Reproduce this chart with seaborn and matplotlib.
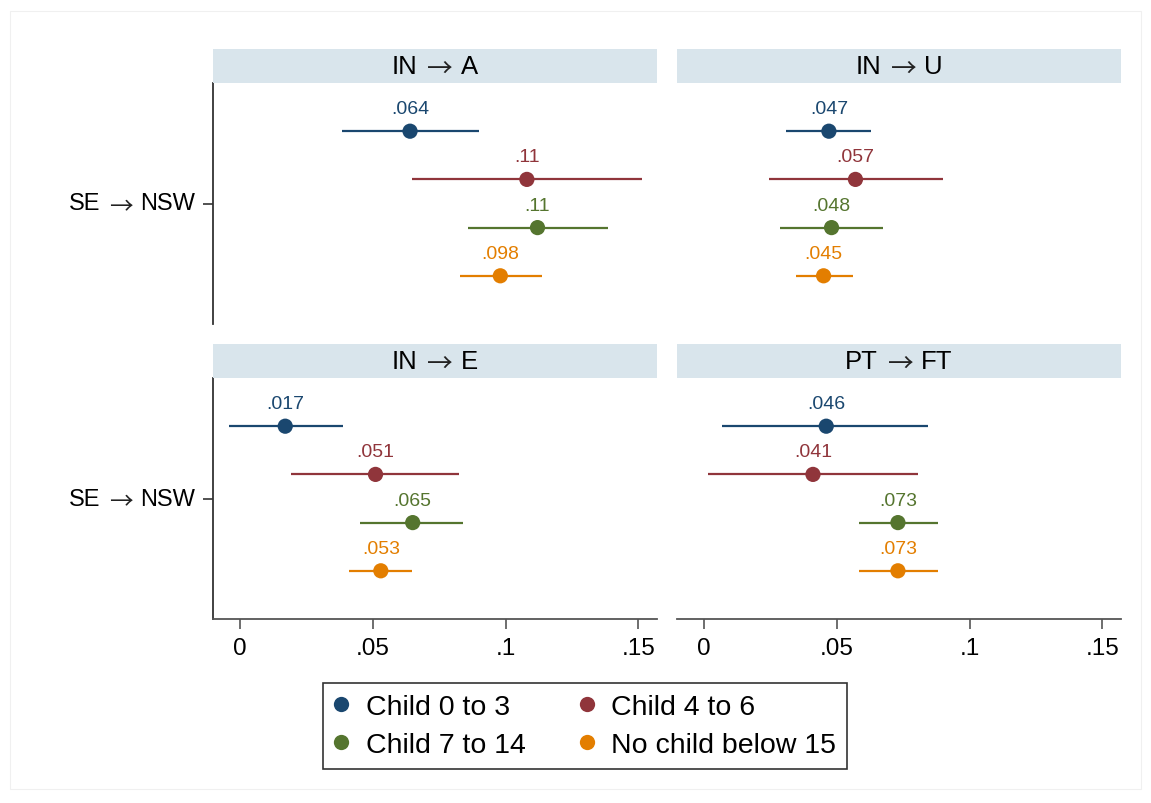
import matplotlib
matplotlib.use("Agg")
import matplotlib.pyplot as plt
import seaborn as sns
import pandas as pd
from matplotlib.lines import Line2D
from matplotlib.patches import Rectangle
from matplotlib.text import Text
from matplotlib.offsetbox import TextArea, HPacker, DrawingArea, AnnotationBbox

# panel titles, row label and groups
panels = ["IN → A", "IN → U", "IN → E", "PT → FT"]
row_label = "SE → NSW"
groups = ["Child 0 to 3", "Child 4 to 6", "Child 7 to 14", "No child below 15"]
colors = ["#1a476f", "#90353b", "#55752f", "#e37e00"]

# point estimates and 95% CIs
coef_a = [0.064, 0.108, 0.112, 0.098]
lo_a = [0.0385, 0.0648, 0.086, 0.0829]
hi_a = [0.0898, 0.1513, 0.1385, 0.1137]

coef_u = [0.047, 0.057, 0.048, 0.045]
lo_u = [0.0308, 0.0246, 0.0284, 0.0345]
hi_u = [0.0629, 0.0899, 0.0672, 0.0559]

coef_e = [0.017, 0.051, 0.065, 0.053]
lo_e = [-0.0040, 0.0191, 0.0452, 0.0412]
hi_e = [0.0387, 0.0826, 0.0841, 0.0648]

coef_ft = [0.046, 0.041, 0.073, 0.073]
lo_ft = [0.0069, 0.0016, 0.0584, 0.0584]
hi_ft = [0.0843, 0.0805, 0.0880, 0.0880]

xticks = [0, 0.05, 0.1, 0.15]
xtick_labels = ["0", ".05", ".1", ".15"]

panel_data = [(coef_a, lo_a, hi_a), (coef_u, lo_u, hi_u),
              (coef_e, lo_e, hi_e), (coef_ft, lo_ft, hi_ft)]


def stata_fmt(v):
    s = f"{v:.2g}"
    return s.replace("0.", ".", 1) if s.startswith("0.") else s


def arrow_text(label, size):
    # letters in Liberation Sans, the long thin arrow from the CJK font,
    # dropped a little so it sits near mid x-height like the original
    left, right = [p.strip() for p in label.split("→")]
    base = dict(fontsize=size, color="black", family="Liberation Sans")
    aw = size * 1.0
    arrow = DrawingArea(aw, size * 0.7, 0, 0, clip=False)
    arrow.add_artist(Text(aw / 2, -size * 0.16, "→", fontsize=size,
                          color="#222222", family="Noto Sans CJK SC",
                          ha="center", va="baseline"))
    return HPacker(children=[TextArea(left, textprops=base),
                             DrawingArea(size * 0.38, 1, 0, 0),
                             arrow,
                             DrawingArea(size * 0.30, 1, 0, 0),
                             TextArea(right, textprops=base)],
                   align="baseline", pad=0, sep=0)


sns.set_theme(style="white")
plt.rcParams['font.family'] = ['Liberation Sans', 'Noto Sans CJK SC', 'DejaVu Sans']
plt.rcParams['text.color'] = 'black'
plt.rcParams['xtick.color'] = 'black'
plt.rcParams['ytick.color'] = 'black'

W, H = 1151, 804
fig = plt.figure(figsize=(W / 100, H / 100), dpi=100)
fig.patches.append(Rectangle((10 / W, 1 - 790 / H), 1131 / W, 778 / H,
                             transform=fig.transFigure, fill=False,
                             edgecolor="#f0f0f0", lw=0.8))

pw, ph = 444, 241
boxes = [(213, 84), (677, 84), (213, 379), (677, 379)]
palette = dict(zip(groups, colors))

for k, (px, py) in enumerate(boxes):
    coef, lo, hi = panel_data[k]
    df = pd.DataFrame({"group": groups, "coef": coef, "lo": lo, "hi": hi})
    df["y"] = [(i - 1.5) * 0.2 for i in range(len(groups))]

    ax = fig.add_axes([px / W, 1 - (py + ph) / H, pw / W, ph / H])
    ax.hlines(df["y"], df["lo"], df["hi"], colors=colors, lw=1.6, zorder=2)
    sns.scatterplot(data=df, x="coef", y="y", hue="group", palette=palette,
                    s=120, edgecolor="none", legend=False, ax=ax, zorder=3)
    for _, r in df.iterrows():
        ax.annotate(stata_fmt(r["coef"]), (r["coef"], r["y"]),
                    xytext=(0, 13), textcoords="offset points",
                    ha="center", va="baseline", fontsize=14,
                    color=palette[r["group"]])

    ax.set_xlim(-0.0102, 0.157)
    ax.set_ylim(0.5, -0.5)
    ax.set_xlabel("")
    ax.set_ylabel("")
    for side in ["top", "right"]:
        ax.spines[side].set_visible(False)

    if k % 2 == 0:
        ax.spines["left"].set_color("#333333")
        ax.spines["left"].set_linewidth(1.3)
        ax.set_yticks([0])
        ax.set_yticklabels([""])
        ax.tick_params(axis="y", left=True, length=7, width=1.2,
                       color="#333333", pad=4)
        ab = AnnotationBbox(arrow_text(row_label, 17), (0, 0),
                            xycoords=("axes fraction", "data"),
                            xybox=(-13, 0), boxcoords="offset points",
                            box_alignment=(1, 0.5), frameon=False,
                            annotation_clip=False)
        ax.add_artist(ab)
    else:
        ax.spines["left"].set_visible(False)
        ax.set_yticks([])

    if k >= 2:
        ax.spines["bottom"].set_color("#555555")
        ax.spines["bottom"].set_linewidth(1.3)
        ax.set_xticks(xticks)
        ax.set_xticklabels(xtick_labels, fontsize=17.5)
        ax.tick_params(axis="x", bottom=True, length=7, width=1.2,
                       color="#555555", pad=6)
    else:
        ax.spines["bottom"].set_visible(False)
        ax.set_xticks([])

    strip = fig.add_axes([px / W, 1 - py / H, pw / W, 34 / H])
    strip.set_facecolor("#d9e5ec")
    strip.set_xticks([])
    strip.set_yticks([])
    for s in strip.spines.values():
        s.set_visible(False)
    sb = AnnotationBbox(arrow_text(panels[k], 18.5), (0.5, 0.5),
                        xycoords="axes fraction", box_alignment=(0.5, 0.5),
                        frameon=False, annotation_clip=False)
    strip.add_artist(sb)

handles = [Line2D([], [], marker="o", ls="none", markersize=11,
                  markerfacecolor=c, markeredgecolor="none") for c in colors]
order = [0, 2, 1, 3]
leg = fig.legend([handles[i] for i in order], [groups[i] for i in order],
                 loc="center", bbox_to_anchor=(585 / W, 1 - 727 / H),
                 ncol=2, fontsize=20.5, frameon=True, fancybox=False,
                 edgecolor="black", handletextpad=0.6, columnspacing=1.9,
                 borderpad=0.4, labelspacing=0.4, handlelength=0.5)
leg.get_frame().set_linewidth(1.2)

fig.savefig("out.png", dpi=100, facecolor="white")
